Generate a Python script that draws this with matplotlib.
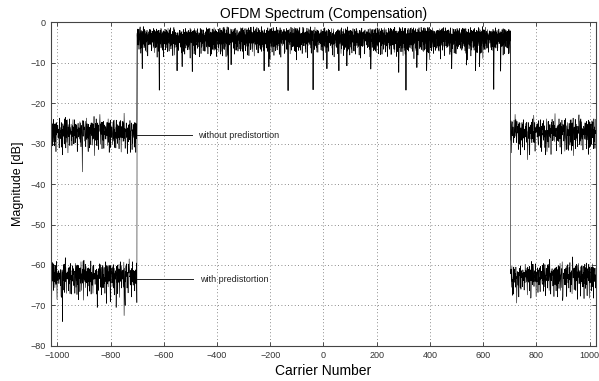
import numpy as np
import matplotlib
matplotlib.use("Agg")
import matplotlib.pyplot as plt

# carriers of the 2k spectrum, occupied band edges
first_carrier = -1024
last_carrier = 1023
band_lo = -700
band_hi = 702

# mean levels [dB]
inband_level = -3.8
without_level = -27.0
with_level = -62.6

# hand-read fluctuation around the mean (dB)
texture_a = [1.2, -0.8, 2.1, -2.6, 0.4, 1.7, -1.5, -4.2, 0.9, 2.3, -0.3, -2.1, 1.5, -0.9, 0.2,
             -3.4, 2.0, 1.1, -1.8, 0.6, -5.1, 1.4, -0.5, 2.4, -1.2, 0.8, -2.8, 1.9, -0.1, -1.6,
             2.2, 0.3, -3.9, 1.0, -0.7, 1.8, -2.3, 0.5, 2.5, -1.1, -6.2, 1.3, 0.0, -2.0, 1.6,
             -0.4, 2.1, -3.1, 0.7, 1.2, -1.4, -0.2, 2.3, -2.5, 0.9, -4.6, 1.5, -0.6, 0.4, 2.0,
             -1.9, 1.1, -0.9, -2.7, 1.7, 0.2, -1.3, 2.4, -3.6, 0.6, 1.4, -0.8, -2.2, 1.9, 0.1,
             -5.4, 1.0, -1.0, 2.2, -0.3, -1.7, 0.8, 1.6, -2.9, 0.3, 2.1, -1.4, -0.5, 1.3, -3.3,
             0.5, 2.4, -0.7, -1.9, 1.1, -4.8, 1.8, 0.0, -1.2, 2.0]
texture_b = [0.4, -0.6, 0.9, -0.2, -1.1, 0.7, 0.1, -0.8, 1.0, -0.4, 0.3, -1.3, 0.6, 0.8,
             -0.5, 0.2, -0.9, 1.1, -0.1, -0.7, 0.5, 0.9, -1.2, 0.0, 0.6, -0.3, 1.2, -1.0,
             0.2, -0.6, 0.8, -0.2, 0.4, -0.9, 1.0, -0.4, 0.1]
inband_spread = 0.75

# notable dips / peaks: (carrier, dB)
inband_spikes = [(-681, -11.5), (-617, -16.8), (-550, -12.0), (-531, -11.0), (-493, -12.2),
                 (-358, -11.8), (-347, -10.5), (-223, -12.0), (-205, -11.0), (-133, -16.9),
                 (-39, -16.7), (13, -11.5), (58, -12.0), (88, -10.8), (178, -11.6),
                 (283, -12.4), (310, -16.8), (351, -11.2), (388, -12.0), (482, -11.5),
                 (538, -10.6), (572, -12.0), (587, -11.0), (640, -16.6), (666, -12.1)]
without_spikes = [(-970, -23.5), (-906, -37.0), (-884, -32.0), (-840, -22.8), (-800, -31.0),
                  (-749, -22.5), (-737, -32.5), (-719, -31.5), (720, -22.8), (755, -31.6),
                  (767, -34.0), (790, -23.0), (835, -32.8), (870, -22.6), (912, -31.5),
                  (960, -22.9), (1000, -31.0)]
with_spikes = [(-985, -68.0), (-981, -74.0), (-970, -58.2), (-900, -58.8), (-850, -70.5),
               (-815, -69.5), (-779, -70.5), (-749, -72.5), (-745, -70.0), (-730, -58.5),
               (711, -67.5), (726, -69.4), (780, -68.0), (850, -58.6), (900, -67.8),
               (936, -58.0), (990, -67.5)]


def trace(out_level, spikes, shift):
    n = np.arange(first_carrier, last_carrier + 1)
    inband = (n >= band_lo) & (n <= band_hi)
    a = np.array(texture_a)[(n + shift) % len(texture_a)]
    b = np.array(texture_b)[(n + 3 * shift) % len(texture_b)]
    y = np.where(inband, inband_level + inband_spread * (a + b), out_level + a + b)
    for c, v in spikes + inband_spikes:
        y[n == c] = v
    return n, y


x1, y1 = trace(without_level, without_spikes, 0)
x2, y2 = trace(with_level, with_spikes, 41)

plt.rcParams['font.family'] = ['Liberation Sans', 'DejaVu Sans']
fig = plt.figure(figsize=(5.99, 3.81), dpi=100)
ax = fig.add_axes([0.085, 0.092, 0.91, 0.85])

ax.plot(x1, y1, color="black", lw=0.4)
ax.plot(x2, y2, color="black", lw=0.4)

# label lines
ax.plot([band_lo, -493], [-28, -28], color="#222222", lw=0.7)
ax.text(-470, -28, "without predistortion", fontsize=6.5, va="center", color="#222222")
ax.plot([band_lo, -490], [-63.5, -63.5], color="#222222", lw=0.7)
ax.text(-463, -63.5, "with predistortion", fontsize=6.5, va="center", color="#222222")

ax.set_xlim(-1024, 1024)
ax.set_ylim(-80, 0)
ax.set_xticks(np.arange(-1000, 1001, 200))
ax.set_yticks(np.arange(-80, 1, 10))
ax.grid(True, color="#666666", linestyle=(0, (1, 3)), linewidth=0.6)
ax.tick_params(direction="in", length=3, width=0.6, labelsize=6.5, top=True, right=True,
               colors="#333333")
for s in ax.spines.values():
    s.set_color("#444444")
    s.set_linewidth(0.8)

ax.set_title("OFDM Spectrum (Compensation)", fontsize=10, pad=3)
ax.set_xlabel("Carrier Number", fontsize=10, labelpad=3)
ax.set_ylabel("Magnitude [dB]", fontsize=9, labelpad=5)

fig.savefig("out.png", dpi=100)
